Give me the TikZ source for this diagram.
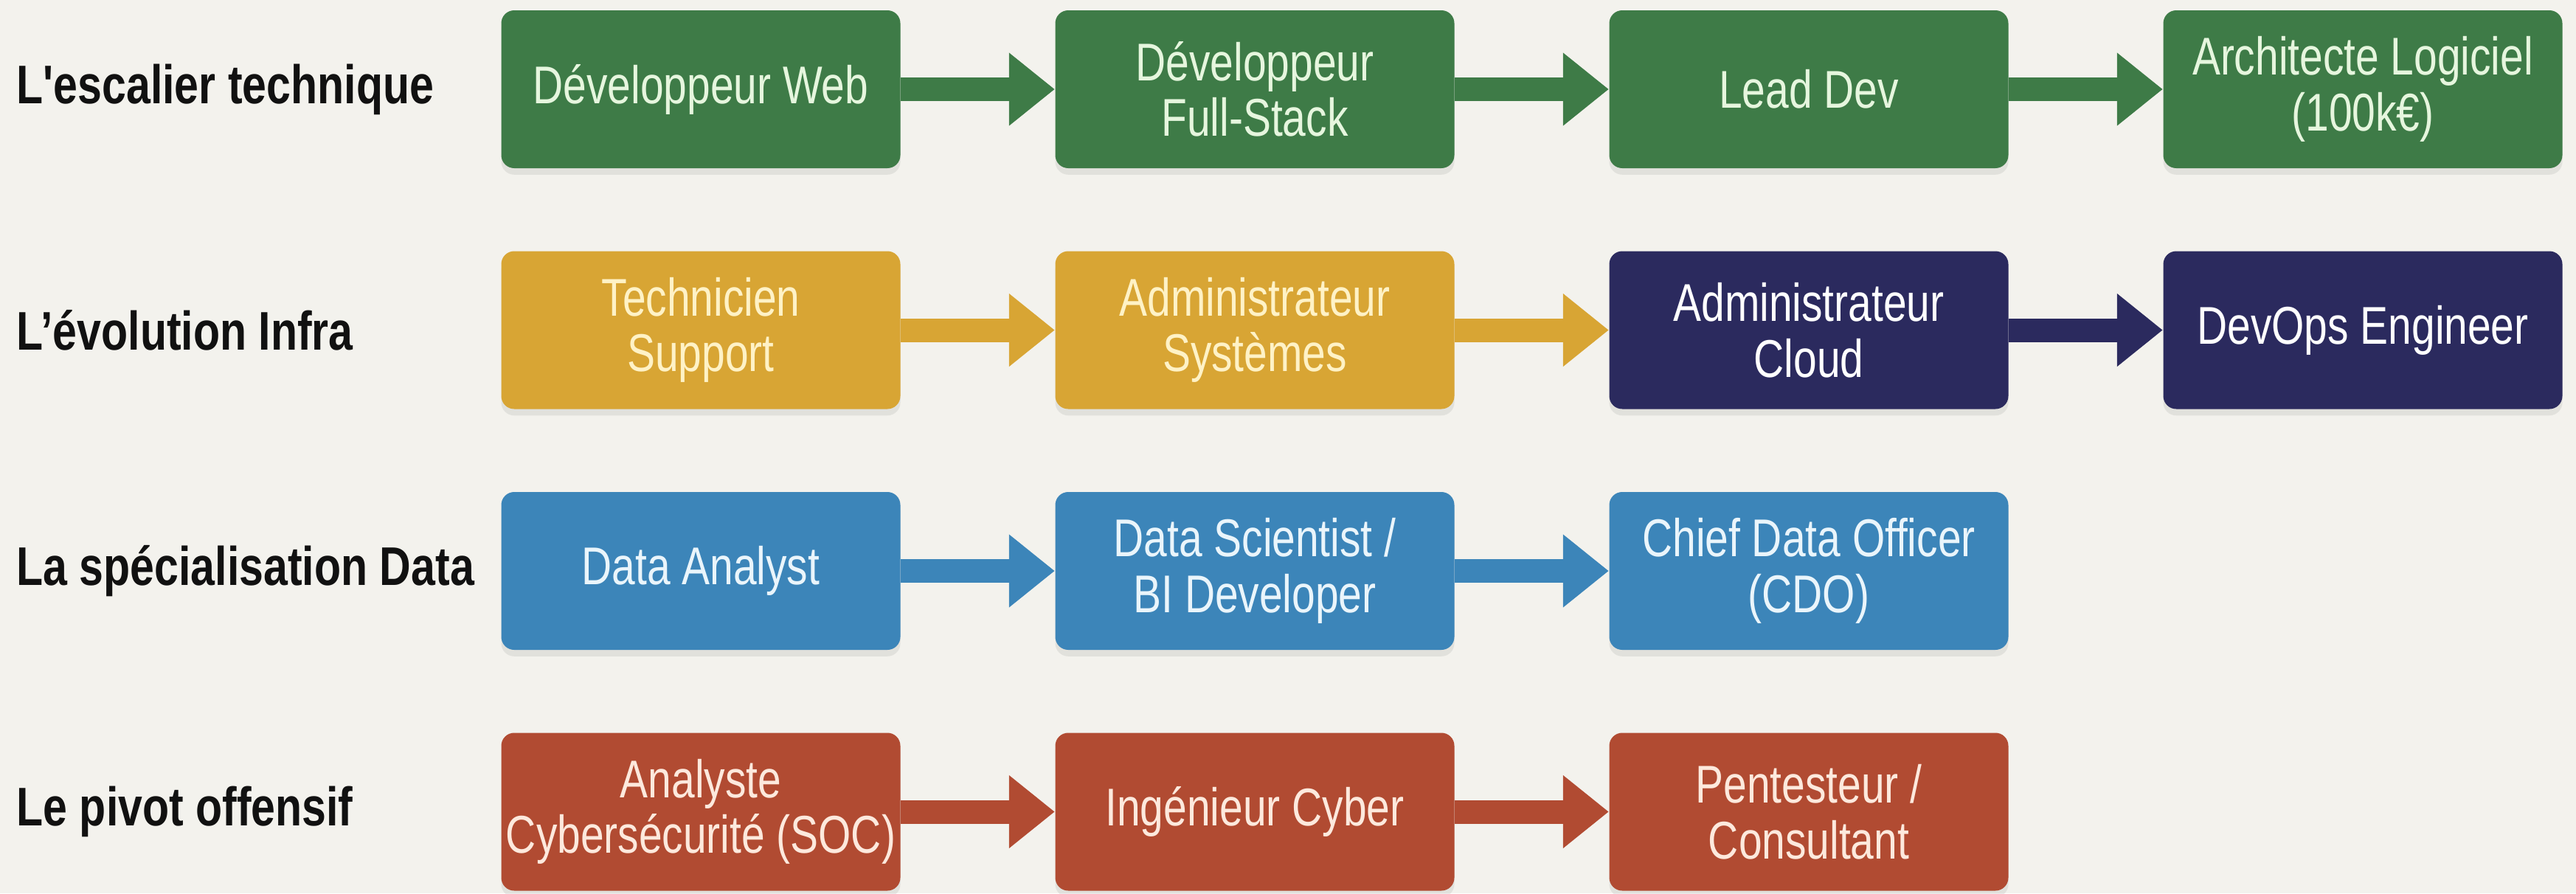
\documentclass[tikz,border=0pt]{standalone}
\usepackage{fontspec}
\setmainfont{Liberation Sans}
\newfontfamily\boxfont{Liberation Sans}[FakeStretch=0.79]
\newfontfamily\trackfont{Liberation Sans}[FakeStretch=0.8]
\usetikzlibrary{arrows.meta,positioning,shadows}
\definecolor{paper}{HTML}{F3F2ED}
\definecolor{ink}{HTML}{111111}
\definecolor{tech}{HTML}{3E7B47}
\definecolor{techtxt}{HTML}{E6F6DE}
\definecolor{infra}{HTML}{D8A534}
\definecolor{infratxt}{HTML}{FFF2C6}
\definecolor{cloud}{HTML}{2B2A5E}
\definecolor{cloudtxt}{HTML}{FFFFFF}
\definecolor{data}{HTML}{3C85B9}
\definecolor{datatxt}{HTML}{EAF5FB}
\definecolor{cyber}{HTML}{B14B32}
\definecolor{cybertxt}{HTML}{FDE9DD}
\newcommand{\ColX}{9.50}
\newcommand{\ColGap}{7.51}
\newcommand{\TopY}{10.90}
\newcommand{\RowGap}{3.265}
\newcommand{\BoxW}{5.41cm}
\newcommand{\BoxH}{2.14cm}

\begin{document}
\begin{tikzpicture}[
    track/.style={anchor=west, inner sep=0pt, text=ink, font=\trackfont\bfseries\fontsize{21}{23}\selectfont},
    job/.style={rounded corners=5pt, minimum width=\BoxW, minimum height=\BoxH, text width=\BoxW,
                align=flush center, inner xsep=0pt, inner ysep=4pt,
                font=\boxfont\fontsize{20.5}{21.5}\selectfont,
                drop shadow={shadow xshift=0pt, shadow yshift=-2.5pt, opacity=0.15}},
    techjob/.style={job, fill=tech, text=techtxt},
    infrajob/.style={job, fill=infra, text=infratxt},
    cloudjob/.style={job, fill=cloud, text=cloudtxt},
    datajob/.style={job, fill=data, text=datatxt},
    cyberjob/.style={job, fill=cyber, text=cybertxt},
    edge/.style={-{Triangle[length=6.2mm, width=9.5mm]}, line width=3.2mm},
  ]
\fill[paper] (0,0) rectangle (34.92,12.11);
\useasboundingbox (0,0) rectangle (34.92,12.11);

% --- Row labels ---------------------------------------------------------------
\foreach \r/\name in {0/{L'escalier technique}, 1/{L’évolution Infra},
                      2/{La spécialisation Data}, 3/{Le pivot offensif}} {
  \node[track] (l\r) at (0.22, \TopY-\r*\RowGap) {\name};
}

% --- The technical ladder -------------------------------------------------------
\foreach \c/\style/\txt in {0/techjob/{Développeur Web},
                            1/techjob/{Développeur\\Full-Stack},
                            2/techjob/{Lead Dev},
                            3/techjob/{Architecte Logiciel\\(100k€)}} {
  \node[\style] (t\c) at (\ColX+\c*\ColGap, \TopY) {\txt};
}
\foreach \c/\n in {0/1, 1/2, 2/3} {
  \draw[edge, tech] (t\c.east) -- (t\n.west);
}

% --- Infra: from support to the cloud ---------------------------------------------
\foreach \c/\style/\txt in {0/infrajob/{Technicien\\Support},
                            1/infrajob/{Administrateur\\Systèmes},
                            2/cloudjob/{Administrateur\\Cloud},
                            3/cloudjob/{DevOps Engineer}} {
  \node[\style] (i\c) at (\ColX+\c*\ColGap, \TopY-\RowGap) {\txt};
}
\foreach \c/\n/\col in {0/1/infra, 1/2/infra, 2/3/cloud} {
  \draw[edge, \col] (i\c.east) -- (i\n.west);
}

% --- Data -------------------------------------------------------------------------
\foreach \c/\txt in {0/{Data Analyst}, 1/{Data Scientist /\\BI Developer},
                     2/{Chief Data Officer\\(CDO)}} {
  \node[datajob] (d\c) at (\ColX+\c*\ColGap, \TopY-2*\RowGap) {\txt};
}
\foreach \c/\n in {0/1, 1/2} {
  \draw[edge, data] (d\c.east) -- (d\n.west);
}

% --- Security ---------------------------------------------------------------------
\foreach \c/\txt in {0/{Analyste\\Cybersécurité (SOC)}, 1/{Ingénieur Cyber},
                     2/{Pentesteur /\\Consultant}} {
  \node[cyberjob] (s\c) at (\ColX+\c*\ColGap, \TopY-3*\RowGap) {\txt};
}
\foreach \c/\n in {0/1, 1/2} {
  \draw[edge, cyber] (s\c.east) -- (s\n.west);
}

\end{tikzpicture}
\end{document}
